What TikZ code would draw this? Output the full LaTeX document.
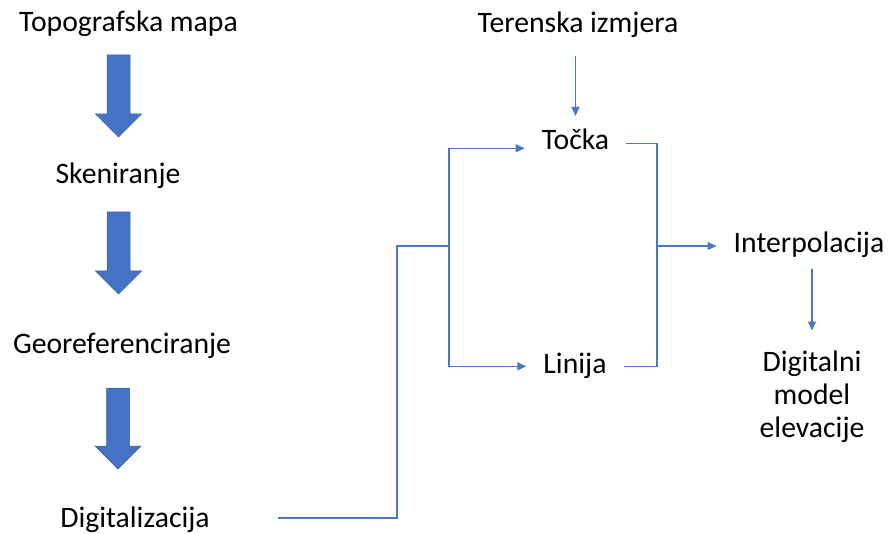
\documentclass[tikz,border=0pt]{standalone}
\usepackage{fontspec}
\setmainfont{Carlito}
\usetikzlibrary{arrows.meta}
\definecolor{officeblue}{HTML}{4472C4}
\definecolor{lineblue}{HTML}{4A78C8}
\newcommand{\downblock}[3]{%
  \filldraw[fill=officeblue,draw=officeblue!85!black,line width=0.5pt]
    ({#1-11.5},#2) -- ({#1+11.5},#2) -- ({#1+11.5},{#3-23}) -- ({#1+23},{#3-23})
    -- (#1,#3) -- ({#1-23},{#3-23}) -- ({#1-11.5},{#3-23}) -- cycle;}

\begin{document}
\begin{tikzpicture}[x=1pt,y=-1pt,
    lbl/.style={font=\fontsize{29.7}{33}\selectfont,anchor=base,inner xsep=17pt,inner ysep=0pt,text height=20.8pt,text depth=7.4pt},
    conn/.style={lineblue,line width=1.2pt},
    >={Triangle[length=9pt,width=8pt]}]
\useasboundingbox (0,0) rectangle (890,534);

\node[lbl] (topo) at (128.5,32) {Topografska mapa};
\node[lbl] (sken) at (118,184) {Skeniranje};
\node[lbl] (georef) at (122,353) {Georeferenciranje};
\node[lbl] (digit) at (135,527) {Digitalizacija};
\downblock{118.5}{55}{137}
\downblock{118.5}{212}{294}
\downblock{118}{388}{469}

\node[lbl] (teren) at (578,33) {Terenska izmjera};
\node[lbl] (tocka) at (575.5,150) {Točka};
\node[lbl] (linija) at (575,373) {Linija};
\node[lbl] (interp) at (809,253) {Interpolacija};
\node[font=\fontsize{29.7}{33}\selectfont,align=center,anchor=north,inner sep=0pt] (dem) at (812,350.5) {Digitalni\\model\\elevacije};

\coordinate (d0) at (278,518);
\coordinate (bend) at (397,246);
\coordinate (split) at (449,246);
\coordinate (merge) at (657,246);

\draw[conn] (d0) -| (bend) -- (split);
\draw[conn,->] (split) |- ([yshift=-5pt]tocka.west);
\draw[conn,->] (split) |- (linija.west);
\draw[conn] (tocka.east) -| (merge);
\draw[conn] (linija.east) -| (merge);
\draw[conn,->] (merge) -- (merge -| interp.west);
\draw[conn,->] (teren.south -| tocka.north) ++(0,15) -- ([yshift=13pt]tocka.north);
\draw[conn,->] (interp.south -| dem.north) ++(0,8) -- ([yshift=20pt]dem.north);
\end{tikzpicture}
\end{document}
